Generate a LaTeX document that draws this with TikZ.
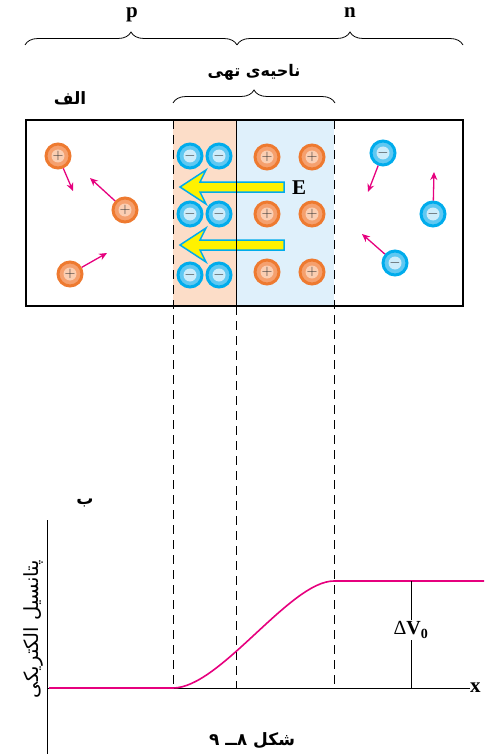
\documentclass[tikz,border=0pt]{standalone}
\usepackage{fontspec}
\setmainfont{Liberation Serif}
\newfontfamily\farsi[Script=Arabic]{DejaVu Sans}
\TeXXeTstate=1
\usetikzlibrary{decorations.pathreplacing,arrows.meta}
\definecolor{holeout}{RGB}{238,122,48}
\definecolor{holemid}{RGB}{245,160,110}
\definecolor{holein}{RGB}{251,206,178}
\definecolor{elecout}{RGB}{0,172,236}
\definecolor{elecmid}{RGB}{95,200,242}
\definecolor{elecin}{RGB}{205,236,250}
\definecolor{pside}{RGB}{252,221,200}
\definecolor{nside}{RGB}{223,240,251}
\definecolor{magent}{RGB}{230,0,126}
\definecolor{fieldyel}{RGB}{255,242,0}
\begin{document}
\begin{tikzpicture}[x=1pt,y=-1pt,
    hole/.style={circle,minimum size=24pt,inner sep=0pt,fill=holemid,draw=holeout,line width=3pt,
      path picture={\fill[holein] (path picture bounding box.center) circle (6.5pt);},
      text=black!80,font=\fontsize{15}{15}\selectfont},
    elec/.style={hole,fill=elecmid,draw=elecout,
      path picture={\fill[elecin] (path picture bounding box.center) circle (6.5pt);}},
    motion/.style={magent,line width=1.3pt,-{Stealth[length=8pt,width=7pt]}},
    bound/.style={black,line width=1pt,dash pattern=on 9pt off 6pt},
    efield/.style={fill=fieldyel,draw=elecout,line width=1.5pt,line join=miter},
    curly/.style={decorate,decoration={brace,amplitude=13pt},line width=0.8pt}]
    \useasboundingbox (0,0) rectangle (484,754);
    % braces and labels
    \draw[curly] (25,45) -- (237,45);
    \draw[curly] (237,45) -- (463,45);
    \draw[curly] (173,103) -- (335,103);
    \node[font=\bfseries\fontsize{21}{21}\selectfont] (p) at (132,15) {p};
    \node[font=\bfseries\fontsize{21}{21}\selectfont] (n) at (350,13) {n};
    \node[font=\farsi\bfseries\fontsize{16}{16}\selectfont] (depl) at (254,72) {\beginR ناحیه‌ی تهی\endR};
    \node[font=\farsi\bfseries\fontsize{17}{17}\selectfont] (alef) at (70,98) {\beginR الف\endR};
    % junction
    \fill[pside] (173,120) rectangle (236,306);
    \fill[nside] (236,120) rectangle (334,306);
    \foreach \ay in {187,245}
        \filldraw[efield] (180,\ay) -- (206,{\ay-17}) -- (200,{\ay-5}) -- (284,{\ay-5})
            -- (284,{\ay+5}) -- (200,{\ay+5}) -- (206,{\ay+17}) -- cycle;
    \node[font=\bfseries\fontsize{21}{21}\selectfont] (E) at (299,188) {E};
    \foreach \px in {190,219}
        \foreach \py in {156,214,275}
            \node[elec] (a\px\py) at (\px,\py) {$-$};
    \foreach \px in {267,312}
        \foreach \py in {157,214,272}
            \node[hole] (d\px\py) at (\px,\py) {$+$};
    % free carriers
    \foreach \nm/\px/\py in {h1/58/156,h2/125/210,h3/70/274}
        \node[hole] (\nm) at (\px,\py) {$+$};
    \foreach \nm/\px/\py in {e1/383/153,e2/433/214,e3/395/263}
        \node[elec] (\nm) at (\px,\py) {$-$};
    \coordinate (h1e) at (73,191);
    \coordinate (h2e) at (90,178);
    \coordinate (h3e) at (107,253);
    \coordinate (e1e) at (368,192);
    \coordinate (e2e) at (434,172);
    \coordinate (e3e) at (362,234);
    \foreach \nm in {h1,h2,h3,e1,e2,e3}
        \draw[motion] (\nm) -- (\nm e);
    % edges of the region
    \draw[bound] (173,120) -- (173,688);
    \draw[bound] (334,120) -- (334,688);
    \draw[bound] (236,306) -- (236,688);
    \draw[line width=1pt] (236,120) -- (236,306);
    \draw[line width=1.2pt] (26,120) rectangle (463,306);
    % potential graph
    \node[font=\farsi\bfseries\fontsize{17}{17}\selectfont] (be) at (85,503) {\beginR ب\endR};
    \draw[line width=1pt] (47,520) -- (47,754);
    \draw[line width=1pt] (47,688) -- (470,688);
    \node[font=\bfseries\fontsize{21}{21}\selectfont,anchor=west,inner sep=1pt] (xlab) at (469,688) {x};
    \node[font=\farsi\fontsize{19.5}{19.5}\selectfont,rotate=90] (vlab) at (33,629) {\beginR پتانسیل الکتریکی\endR};
    \draw[magent,line width=1.6pt] (49,688) -- (173,688) .. controls (220,688) and (290,581) .. (334,581) -- (484,581);
    \coordinate (dvtop) at (411,581);
    \coordinate (dvbot) at (411,688);
    \node[font=\fontsize{20}{20}\selectfont,inner sep=2pt] (dv) at (411,630) {Δ\textbf{V}\textsubscript{\textbf{0}}};
    \draw[line width=1pt] (dvtop) -- (dv);
    \draw[line width=1pt] (dv) -- (dvbot);
    \node[font=\farsi\bfseries\fontsize{17}{17}\selectfont] (cap) at (252,741) {\beginR شکل ۸ــ ۹\endR};
\end{tikzpicture}
\end{document}
